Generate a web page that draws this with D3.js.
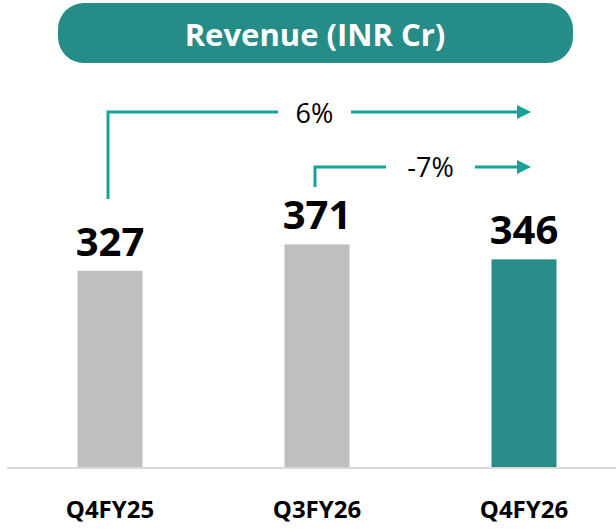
<!DOCTYPE html>
<html>
<head>
<meta charset="utf-8">
<script src="https://cdn.jsdelivr.net/npm/d3@7"></script>
<style>
  body { margin: 0; background: #fff; }
  svg { display: block; font-family: "Open Sans", "Noto Sans", sans-serif; }
</style>
</head>
<body>
<div id="chart"></div>
<script>
const categories = ["Q4FY25", "Q3FY26", "Q4FY26"];
const revenue = [327, 371, 346];
const barColors = ["#bfbfbf", "#bfbfbf", "#288c88"];
const growthLabels = ["6%", "-7%"];
const title = "Revenue (INR Cr)";

const width = 616, height = 529;
const baseY = 467;
const teal = "#268c87";
const arrowTeal = "#14a396";

const svg = d3.select("#chart").append("svg")
    .attr("width", width)
    .attr("height", height);

svg.append("defs").append("marker")
    .attr("id", "head")
    .attr("viewBox", "0 0 10 10")
    .attr("refX", 0).attr("refY", 5)
    .attr("markerWidth", 16).attr("markerHeight", 14)
    .attr("markerUnits", "userSpaceOnUse")
    .attr("orient", "auto")
  .append("path")
    .attr("d", "M0,0L10,5L0,10Z")
    .attr("fill", arrowTeal);

// title pill
svg.append("rect")
    .attr("x", 58).attr("y", 3)
    .attr("width", 515).attr("height", 60)
    .attr("rx", 26)
    .attr("fill", teal);
svg.append("text")
    .attr("x", 315).attr("y", 46)
    .attr("text-anchor", "middle")
    .attr("fill", "#fff")
    .style("font-weight", 700)
    .style("font-size", "31px")
    .text(title);

// scales
const x = d3.scaleBand()
    .domain(categories)
    .range([6.5, 627.5])
    .paddingInner(0.686)
    .paddingOuter(0.343);

const y = d3.scaleLinear()
    .domain([0, 400])
    .range([baseY, baseY - 0.6 * 400]);

// bars
svg.selectAll("rect.bar")
  .data(revenue)
  .join("rect")
    .attr("class", "bar")
    .attr("x", (d, i) => x(categories[i]))
    .attr("y", d => y(d))
    .attr("width", x.bandwidth())
    .attr("height", d => baseY - y(d))
    .attr("fill", (d, i) => barColors[i]);

// baseline
svg.append("line")
    .attr("x1", 7).attr("x2", 616)
    .attr("y1", baseY + 1).attr("y2", baseY + 1)
    .attr("stroke", "#d9d9d9")
    .attr("stroke-width", 2);

// value labels
svg.selectAll("text.val")
  .data(revenue)
  .join("text")
    .attr("class", "val")
    .attr("x", (d, i) => x(categories[i]) + x.bandwidth() / 2)
    .attr("y", d => y(d) - 15)
    .attr("text-anchor", "middle")
    .style("font-weight", 700)
    .style("font-size", "40px")
    .text(d => d);

// category axis labels
const xAxis = svg.append("g")
    .attr("transform", `translate(0,${baseY})`)
    .call(d3.axisBottom(x).tickSize(0).tickPadding(34));
xAxis.select(".domain").remove();
xAxis.selectAll("text")
    .attr("fill", "#000")
    .style("font-family", "Open Sans, sans-serif")
    .style("font-weight", 700)
    .style("font-size", "24px");

// growth arrows
const cx = i => x(categories[i]) + x.bandwidth() / 2;
const arrows = [
  { from: 0, top: 112, bottom: 199, gap: [278, 351], dy: 11, label: growthLabels[0] },
  { from: 1, top: 167, bottom: 187, gap: [386, 475], dy: 10, label: growthLabels[1] }
];
const tipX = cx(2) + 9;

arrows.forEach(a => {
  const x0 = cx(a.from) - 2;
  svg.append("path")
      .attr("d", `M${x0},${a.bottom}V${a.top}H${a.gap[0]}`)
      .attr("fill", "none")
      .attr("stroke", arrowTeal)
      .attr("stroke-width", 3);
  svg.append("path")
      .attr("d", `M${a.gap[1]},${a.top}H${tipX - 16}`)
      .attr("fill", "none")
      .attr("stroke", arrowTeal)
      .attr("stroke-width", 3)
      .attr("marker-end", "url(#head)");
  svg.append("text")
      .attr("x", (a.gap[0] + a.gap[1]) / 2)
      .attr("y", a.top + a.dy)
      .attr("text-anchor", "middle")
      .style("font-size", "27px")
      .attr("fill", "#000")
      .text(a.label);
});
</script>
</body>
</html>
